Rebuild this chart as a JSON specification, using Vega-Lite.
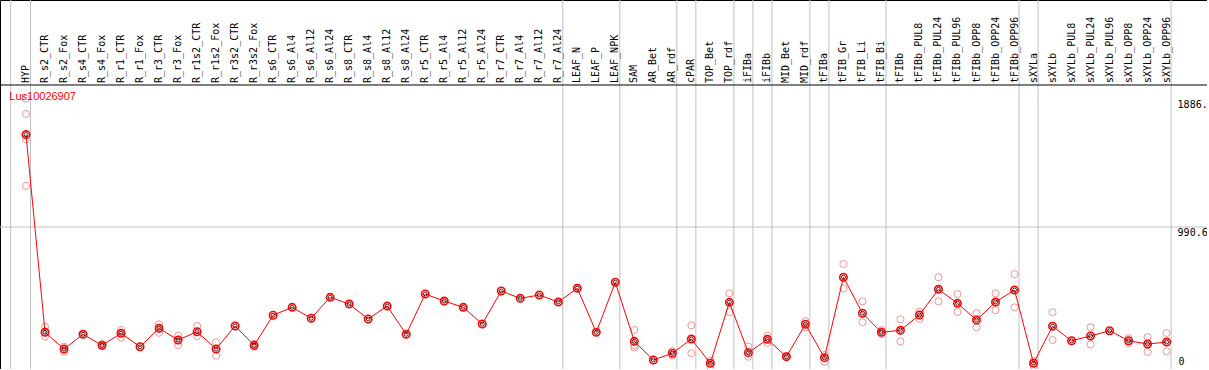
{
  "$schema": "https://vega.github.io/schema/vega-lite/v6.json",
  "width": 1207,
  "height": 369,
  "padding": 0,
  "autosize": {"type": "none"},
  "background": "white",
  "config": {"view": {"stroke": "black", "strokeWidth": 1}},
  "datasets": {
    "means": [
      {"sample": "HYP", "v": 1635}, {"sample": "R_s2_CTR", "v": 256}, {"sample": "R_s2_Fox", "v": 139}, {"sample": "R_s4_CTR", "v": 242}, {"sample": "R_s4_Fox", "v": 165},
      {"sample": "R_r1_CTR", "v": 249}, {"sample": "R_r1_Fox", "v": 155}, {"sample": "R_r3_CTR", "v": 284}, {"sample": "R_r3_Fox", "v": 202}, {"sample": "R_r1s2_CTR", "v": 260},
      {"sample": "R_r1s2_Fox", "v": 139}, {"sample": "R_r3s2_CTR", "v": 300}, {"sample": "R_r3s2_Fox", "v": 165}, {"sample": "R_s6_CTR", "v": 375}, {"sample": "R_s6_Al4", "v": 430},
      {"sample": "R_s6_Al12", "v": 354}, {"sample": "R_s6_Al24", "v": 500}, {"sample": "R_s8_CTR", "v": 453}, {"sample": "R_s8_Al4", "v": 349}, {"sample": "R_s8_Al12", "v": 439},
      {"sample": "R_s8_Al24", "v": 242}, {"sample": "R_r5_CTR", "v": 523}, {"sample": "R_r5_Al4", "v": 474}, {"sample": "R_r5_Al12", "v": 430}, {"sample": "R_r5_Al24", "v": 314},
      {"sample": "R_r7_CTR", "v": 544}, {"sample": "R_r7_Al4", "v": 493}, {"sample": "R_r7_Al12", "v": 516}, {"sample": "R_r7_Al24", "v": 467}, {"sample": "LEAF_N", "v": 563},
      {"sample": "LEAF_P", "v": 256}, {"sample": "LEAF_NPK", "v": 605}, {"sample": "SAM", "v": 193}, {"sample": "AR_Bet", "v": 63}, {"sample": "AR_rdf", "v": 110},
      {"sample": "cPAR", "v": 209}, {"sample": "TOP_Bet", "v": 40}, {"sample": "TOP_rdf", "v": 465}, {"sample": "iFIBa", "v": 114}, {"sample": "iFIBb", "v": 207},
      {"sample": "MID_Bet", "v": 86}, {"sample": "MID_rdf", "v": 312}, {"sample": "tFIBa", "v": 79}, {"sample": "tFIB_Gr", "v": 640}, {"sample": "tFIB_Li", "v": 389},
      {"sample": "tFIB_Bi", "v": 256}, {"sample": "tFIBb", "v": 270}, {"sample": "tFIBb_PUL8", "v": 377}, {"sample": "tFIBb_PUL24", "v": 556}, {"sample": "tFIBb_PUL96", "v": 458},
      {"sample": "tFIBb_OPP8", "v": 342}, {"sample": "tFIBb_OPP24", "v": 467}, {"sample": "tFIBb_OPP96", "v": 551}, {"sample": "sXYLa", "v": 40}, {"sample": "sXYLb", "v": 298},
      {"sample": "sXYLb_PUL8", "v": 197}, {"sample": "sXYLb_PUL24", "v": 230}, {"sample": "sXYLb_PUL96", "v": 267}, {"sample": "sXYLb_OPP8", "v": 197}, {"sample": "sXYLb_OPP24", "v": 174},
      {"sample": "sXYLb_OPP96", "v": 188}
    ],
    "reps": [
      {"sample": "HYP", "v": 1886}, {"sample": "HYP", "v": 1779}, {"sample": "HYP", "v": 1602}, {"sample": "HYP", "v": 1277},
      {"sample": "R_s2_CTR", "v": 295}, {"sample": "R_s2_CTR", "v": 225},
      {"sample": "R_s2_Fox", "v": 156}, {"sample": "R_s2_Fox", "v": 121},
      {"sample": "R_s4_Fox", "v": 172}, {"sample": "R_s4_Fox", "v": 158},
      {"sample": "R_r1_CTR", "v": 272}, {"sample": "R_r1_CTR", "v": 218},
      {"sample": "R_r3_CTR", "v": 312}, {"sample": "R_r3_CTR", "v": 253},
      {"sample": "R_r3_Fox", "v": 232}, {"sample": "R_r3_Fox", "v": 167},
      {"sample": "R_r1s2_CTR", "v": 300}, {"sample": "R_r1s2_CTR", "v": 230},
      {"sample": "R_r1s2_Fox", "v": 186}, {"sample": "R_r1s2_Fox", "v": 93},
      {"sample": "R_r3s2_Fox", "v": 175}, {"sample": "R_r3s2_Fox", "v": 155},
      {"sample": "SAM", "v": 272}, {"sample": "SAM", "v": 165}, {"sample": "SAM", "v": 151},
      {"sample": "AR_rdf", "v": 125}, {"sample": "AR_rdf", "v": 95},
      {"sample": "cPAR", "v": 305}, {"sample": "cPAR", "v": 110},
      {"sample": "TOP_Bet", "v": 58}, {"sample": "TOP_Bet", "v": 16},
      {"sample": "TOP_rdf", "v": 528}, {"sample": "TOP_rdf", "v": 396},
      {"sample": "iFIBa", "v": 156}, {"sample": "iFIBa", "v": 86},
      {"sample": "iFIBb", "v": 232}, {"sample": "iFIBb", "v": 183},
      {"sample": "MID_Bet", "v": 91}, {"sample": "MID_Bet", "v": 84},
      {"sample": "MID_rdf", "v": 335}, {"sample": "MID_rdf", "v": 291},
      {"sample": "tFIBa", "v": 98}, {"sample": "tFIBa", "v": 51},
      {"sample": "tFIB_Gr", "v": 732}, {"sample": "tFIB_Gr", "v": 563},
      {"sample": "tFIB_Li", "v": 472}, {"sample": "tFIB_Li", "v": 326},
      {"sample": "tFIB_Bi", "v": 272}, {"sample": "tFIB_Bi", "v": 244},
      {"sample": "tFIBb", "v": 347}, {"sample": "tFIBb", "v": 193},
      {"sample": "tFIBb_PUL8", "v": 400}, {"sample": "tFIBb_PUL8", "v": 349},
      {"sample": "tFIBb_PUL24", "v": 640}, {"sample": "tFIBb_PUL24", "v": 472},
      {"sample": "tFIBb_PUL96", "v": 523}, {"sample": "tFIBb_PUL96", "v": 398},
      {"sample": "tFIBb_OPP8", "v": 389}, {"sample": "tFIBb_OPP8", "v": 291},
      {"sample": "tFIBb_OPP24", "v": 528}, {"sample": "tFIBb_OPP24", "v": 410},
      {"sample": "tFIBb_OPP96", "v": 661}, {"sample": "tFIBb_OPP96", "v": 430},
      {"sample": "sXYLa", "v": 56}, {"sample": "sXYLa", "v": 21},
      {"sample": "sXYLb", "v": 396}, {"sample": "sXYLb", "v": 202},
      {"sample": "sXYLb_PUL24", "v": 291}, {"sample": "sXYLb_PUL24", "v": 172},
      {"sample": "sXYLb_OPP8", "v": 216}, {"sample": "sXYLb_OPP8", "v": 181},
      {"sample": "sXYLb_OPP24", "v": 223}, {"sample": "sXYLb_OPP24", "v": 119},
      {"sample": "sXYLb_OPP96", "v": 251}, {"sample": "sXYLb_OPP96", "v": 123}
    ],
    "groupEnds": [
      {"sample": "HYP"}, {"sample": "R_r7_Al24"}, {"sample": "LEAF_NPK"}, {"sample": "AR_rdf"}, {"sample": "cPAR"},
      {"sample": "TOP_rdf"}, {"sample": "iFIBa"}, {"sample": "iFIBb"}, {"sample": "MID_rdf"}, {"sample": "tFIBa"},
      {"sample": "tFIB_Bi"}, {"sample": "tFIBb_OPP96"}, {"sample": "sXYLa"}, {"sample": "sXYLb_OPP96"}
    ],
    "ticks": [
      {"label": "1886.", "v": 1886}, {"label": "990.6", "v": 990.6}
    ],
    "gene": [
      {"label": "Lus10026907", "v": 1981.2}
    ]
  },
  "encoding": {
    "x": {
      "field": "sample", "type": "nominal", "sort": null, "axis": null,
      "scale": {
        "domain": ["HYP","R_s2_CTR","R_s2_Fox","R_s4_CTR","R_s4_Fox","R_r1_CTR","R_r1_Fox","R_r3_CTR","R_r3_Fox","R_r1s2_CTR","R_r1s2_Fox","R_r3s2_CTR","R_r3s2_Fox","R_s6_CTR","R_s6_Al4","R_s6_Al12","R_s6_Al24","R_s8_CTR","R_s8_Al4","R_s8_Al12","R_s8_Al24","R_r5_CTR","R_r5_Al4","R_r5_Al12","R_r5_Al24","R_r7_CTR","R_r7_Al4","R_r7_Al12","R_r7_Al24","LEAF_N","LEAF_P","LEAF_NPK","SAM","AR_Bet","AR_rdf","cPAR","TOP_Bet","TOP_rdf","iFIBa","iFIBb","MID_Bet","MID_rdf","tFIBa","tFIB_Gr","tFIB_Li","tFIB_Bi","tFIBb","tFIBb_PUL8","tFIBb_PUL24","tFIBb_PUL96","tFIBb_OPP8","tFIBb_OPP24","tFIBb_OPP96","sXYLa","sXYLb","sXYLb_PUL8","sXYLb_PUL24","sXYLb_PUL96","sXYLb_OPP8","sXYLb_OPP24","sXYLb_OPP96"],
        "type": "point", "padding": 0, "range": [26, 1166.6]
      }
    },
    "y": {"field": "v", "type": "quantitative", "axis": null, "scale": {"domain": [0, 2574.1], "nice": false, "zero": false}}
  },
  "layer": [
    {
      "data": {"name": "groupEnds"},
      "mark": {"type": "rule", "color": "#c0c0c0", "strokeWidth": 1, "xOffset": 4.5},
      "encoding": {
        "x": {"field": "sample", "type": "nominal", "sort": null},
        "y": null
      }
    },
    {
      "data": {"values": [{"sample": "HYP"}]},
      "mark": {"type": "rule", "color": "#c0c0c0", "strokeWidth": 1, "xOffset": -15.3},
      "encoding": {
        "x": {"field": "sample", "type": "nominal", "sort": null},
        "y": null
      }
    },
    {
      "data": {"values": [{"v": 990.6}]},
      "mark": {"type": "rule", "color": "#c0c0c0", "strokeWidth": 1},
      "encoding": {
        "x": null,
        "y": {"field": "v", "type": "quantitative"}
      }
    },
    {
      "data": {"values": [{"v": 1981.2}]},
      "mark": {"type": "rule", "color": "black", "strokeWidth": 1},
      "encoding": {
        "x": null,
        "y": {"field": "v", "type": "quantitative"}
      }
    },
    {
      "data": {"name": "means"},
      "mark": {"type": "text", "font": "DejaVu Sans Mono", "fontSize": 10, "angle": 270, "align": "left", "baseline": "middle", "dx": 2, "color": "black"},
      "encoding": {
        "y": {"datum": 1981.2, "type": "quantitative"},
        "text": {"field": "sample"}
      }
    },
    {
      "data": {"name": "reps"},
      "mark": {"type": "point", "shape": "circle", "filled": false, "size": 50, "strokeWidth": 1, "color": "#f09595", "opacity": 1}
    },
    {
      "data": {"name": "means"},
      "mark": {"type": "line", "color": "#ff0000", "strokeWidth": 1}
    },
    {
      "data": {"name": "means"},
      "mark": {"type": "point", "shape": "circle", "filled": false, "size": 55, "strokeWidth": 1.6, "color": "#ff0000", "opacity": 1}
    },
    {
      "data": {"name": "means"},
      "mark": {"type": "point", "shape": "circle", "filled": false, "size": 16, "strokeWidth": 0.8, "color": "black", "opacity": 1}
    },
    {
      "data": {"name": "gene"},
      "mark": {"type": "text", "font": "Liberation Sans", "fontSize": 11, "align": "left", "baseline": "top", "dx": -16.7, "dy": 6, "fill": "#ff0000", "color": "#ff0000"},
      "encoding": {
        "x": {"datum": "HYP"},
        "text": {"field": "label"}
      }
    },
    {
      "data": {"name": "ticks"},
      "mark": {"type": "text", "font": "DejaVu Sans Mono", "fontSize": 10, "align": "left", "baseline": "top", "dx": 11, "dy": 1, "color": "black"},
      "encoding": {
        "x": {"datum": "sXYLb_OPP96"},
        "text": {"field": "label"}
      }
    },
    {
      "data": {"values": [{"label": "0", "v": 0}]},
      "mark": {"type": "text", "font": "DejaVu Sans Mono", "fontSize": 10, "align": "left", "baseline": "alphabetic", "dx": 12, "dy": -4, "color": "black"},
      "encoding": {
        "x": {"datum": "sXYLb_OPP96"},
        "text": {"field": "label"}
      }
    }
  ]
}
